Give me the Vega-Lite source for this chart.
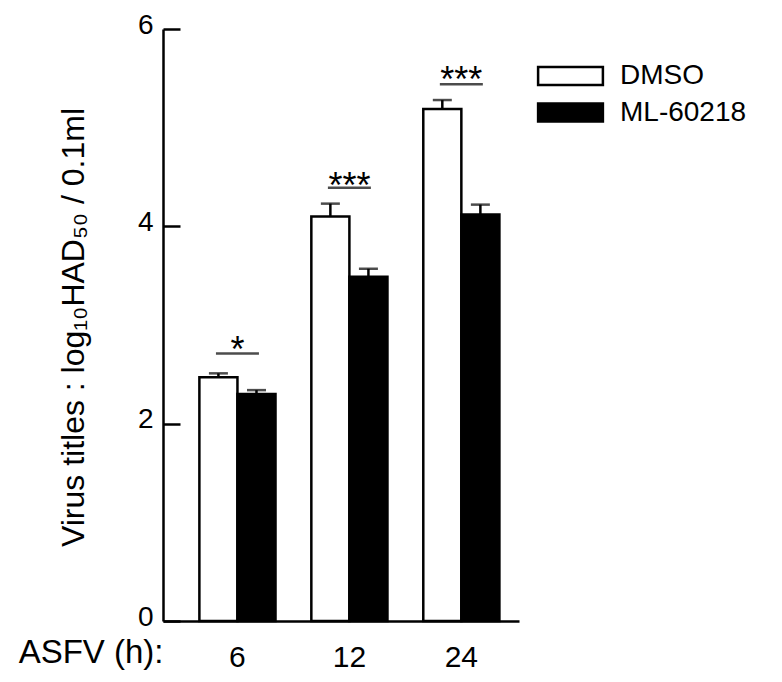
{
  "$schema": "https://vega.github.io/schema/vega-lite/v6.json",
  "width": 356,
  "height": 592,
  "autosize": "none",
  "padding": {"left": 163, "top": 29, "right": 263, "bottom": 61},
  "config": {
    "font": "Liberation Sans",
    "view": {"stroke": null},
    "axis": {"grid": false, "domainColor": "black", "domainWidth": 2.5, "tickColor": "black", "labelColor": "black", "titleColor": "black"}
  },
  "datasets": {
    "bars": [
      {"time": "6", "treatment": "DMSO", "value": 2.47, "upper": 2.51},
      {"time": "6", "treatment": "ML-60218", "value": 2.30, "upper": 2.34},
      {"time": "12", "treatment": "DMSO", "value": 4.10, "upper": 4.23},
      {"time": "12", "treatment": "ML-60218", "value": 3.49, "upper": 3.57},
      {"time": "24", "treatment": "DMSO", "value": 5.19, "upper": 5.28},
      {"time": "24", "treatment": "ML-60218", "value": 4.12, "upper": 4.22}
    ],
    "sig": [
      {"time": "6", "line": 2.71, "label": "*", "textY": 2.625},
      {"time": "12", "line": 4.39, "label": "***", "textY": 4.29},
      {"time": "24", "line": 5.44, "label": "***", "textY": 5.36}
    ]
  },
  "layer": [
    {
      "data": {"name": "bars"},
      "mark": {"type": "bar", "stroke": "black", "strokeWidth": 2.5},
      "encoding": {
        "x": {"field": "time", "type": "nominal", "sort": ["6", "12", "24"],
              "scale": {"domain": ["6", "12", "24"], "paddingInner": 0.32, "paddingOuter": 0.25, "align": 0.65},
              "axis": {"title": "ASFV (h):", "titleX": 0, "titleY": 41, "titleAlign": "right", "titleBaseline": "alphabetic", "titleFontSize": 33, "titleFontWeight": "normal", "titleAngle": 0,
                       "ticks": false, "tickSize": 0, "labelAngle": 0, "labelFontSize": 30, "labelBaseline": "alphabetic", "labelPadding": 45}},
        "xOffset": {"field": "treatment", "type": "nominal", "scale": {"domain": ["DMSO", "ML-60218"], "paddingInner": 0, "paddingOuter": 0}},
        "y": {"field": "value", "type": "quantitative",
              "scale": {"domain": [0, 6], "nice": false},
              "axis": {"values": [0, 2, 4, 6], "format": "d", "tickSize": -17, "tickWidth": 2.5, "labelFontSize": 28, "labelPadding": 27, "labelOffset": -4,
                       "title": "Virus titles : log₁₀HAD₅₀ / 0.1ml", "titleFontSize": 32, "titleFontWeight": "normal",
                       "titleX": -80, "titleY": 298, "titleAlign": "center", "titleBaseline": "alphabetic", "titleAngle": -90}},
        "fill": {"field": "treatment", "type": "nominal",
                 "scale": {"domain": ["DMSO", "ML-60218"], "range": ["white", "black"]},
                 "legend": {"title": null, "orient": "none", "legendX": 393.5, "legendY": 33, "padding": 0,
                            "symbolType": "M-3.6,-1H3.6V1H-3.6Z", "symbolSize": 324, "symbolStrokeColor": "black", "symbolStrokeWidth": 2.5,
                            "labelFontSize": 28, "labelColor": "black", "labelOffset": 35.5, "rowPadding": 8.5}}
      }
    },
    {
      "data": {"name": "bars"},
      "mark": {"type": "rule", "color": "black", "strokeWidth": 2.5},
      "encoding": {
        "x": {"field": "time", "type": "nominal", "sort": ["6", "12", "24"]},
        "xOffset": {"field": "treatment", "type": "nominal"},
        "y": {"field": "value", "type": "quantitative"},
        "y2": {"field": "upper"}
      }
    },
    {
      "data": {"name": "bars"},
      "mark": {"type": "tick", "color": "black", "size": 19, "thickness": 2.5, "orient": "horizontal"},
      "encoding": {
        "x": {"field": "time", "type": "nominal", "sort": ["6", "12", "24"]},
        "xOffset": {"field": "treatment", "type": "nominal"},
        "y": {"field": "upper", "type": "quantitative"}
      }
    },
    {
      "data": {"name": "sig"},
      "mark": {"type": "tick", "color": "black", "size": 43, "thickness": 2.5, "orient": "horizontal"},
      "encoding": {
        "x": {"field": "time", "type": "nominal", "sort": ["6", "12", "24"]},
        "y": {"field": "line", "type": "quantitative"}
      }
    },
    {
      "data": {"name": "sig"},
      "mark": {"type": "text", "color": "black", "fontSize": 36, "baseline": "alphabetic", "align": "center"},
      "encoding": {
        "x": {"field": "time", "type": "nominal", "sort": ["6", "12", "24"]},
        "y": {"field": "textY", "type": "quantitative"},
        "text": {"field": "label"}
      }
    }
  ]
}
